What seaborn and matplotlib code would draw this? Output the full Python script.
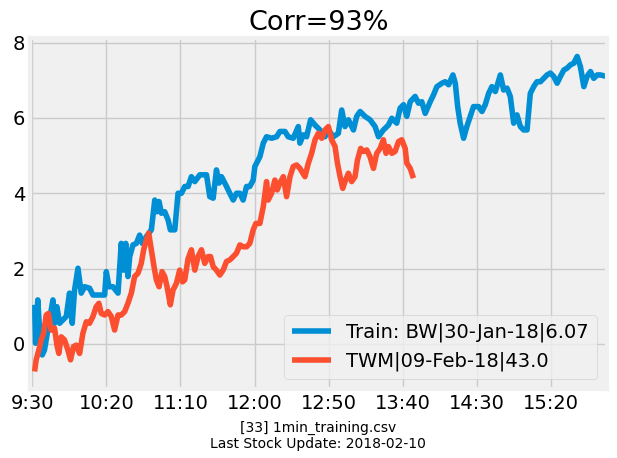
import matplotlib
matplotlib.use('Agg')  # no display

import numpy as np
import pandas as pd
import matplotlib.pyplot as plt
import seaborn as sns

# minutes since 9:30 and normalised price change
train_min = [1.6, 2.3, 3.8, 5.0, 6.8, 8.3, 10.6, 11.7, 14.0, 15.1, 16.7, 18.5, 20.7, 23.0, 25.2, 27.0,
             28.6, 30.9, 33.1, 35.4, 38.7, 41.0, 45.5, 48.9, 50.0, 51.8, 54.5, 57.9, 60.1, 61.7, 63.1,
             64.6, 65.8, 68.0, 70.3, 72.5, 74.3, 77.0, 80.4, 82.7, 84.2, 85.6, 87.2, 89.4, 91.7, 93.2,
             96.2, 98.4, 100.7, 102.9, 105.2, 107.4, 109.7, 113.1, 117.6, 119.8, 122.1, 124.3, 126.1,
             127.7, 131.1, 133.3, 135.6, 137.8, 140.1, 142.3, 144.6, 146.8, 149.1, 150.2, 153.6, 155.9,
             158.1, 161.5, 164.9, 167.1, 170.5, 172.7, 176.1, 179.5, 180.6, 182.9, 185.1, 187.8, 190.8,
             194.1, 197.5, 199.8, 203.2, 206.5, 208.8, 211.0, 213.3, 216.7, 218.9, 221.2, 224.5, 227.9,
             231.3, 233.6, 236.9, 240.3, 242.6, 245.9, 248.2, 250.5, 252.7, 255.0, 258.3, 260.6, 262.8,
             265.1, 268.5, 270.7, 273.0, 276.4, 278.6, 280.9, 283.8, 285.4, 287.0, 288.7, 291.0, 293.2,
             295.5, 297.7, 301.1, 303.4, 305.6, 307.9, 310.1, 312.4, 315.8, 318.0, 320.3, 322.5, 324.8,
             327.0, 329.3, 331.5, 333.8, 336.0, 338.3, 340.5, 342.8, 345.0, 347.3, 349.5, 351.8, 354.1,
             356.3, 358.6, 360.8, 363.1, 365.3, 367.6, 369.8, 372.1, 374.3, 376.6, 378.8, 381.1, 383.3,
             387.4]
train_val = [1.04, 0.02, 1.17, 0.37, -0.29, -0.16, 0.37, 0.64, 1.17, 0.55, 0.99, 0.55, 0.64, 0.73, 1.35,
             0.55, 1.43, 2.01, 1.35, 1.52, 1.48, 1.30, 1.30, 1.30, 1.92, 1.52, 1.52, 1.35, 2.67, 1.96,
             2.67, 1.79, 2.32, 2.63, 2.67, 2.89, 2.67, 2.85, 3.03, 3.82, 3.51, 3.78, 3.47, 3.51, 3.29,
             3.03, 3.03, 4.00, 4.00, 4.18, 4.18, 4.44, 4.31, 4.49, 4.49, 3.91, 3.87, 4.62, 4.27, 4.44,
             4.18, 4.00, 3.82, 4.00, 4.00, 3.82, 4.18, 4.18, 4.35, 4.71, 4.97, 5.33, 5.50, 5.46, 5.50,
             5.64, 5.64, 5.50, 5.46, 5.77, 5.33, 5.55, 5.50, 5.95, 5.81, 5.68, 5.50, 5.68, 5.50, 5.59,
             6.21, 5.77, 5.95, 5.68, 6.04, 6.17, 6.04, 5.95, 5.77, 5.50, 5.68, 5.81, 5.99, 5.86, 6.26,
             6.35, 6.04, 6.43, 6.57, 6.39, 6.43, 6.12, 6.43, 6.61, 6.83, 6.92, 6.96, 6.88, 7.14, 6.92,
             6.30, 5.86, 5.46, 5.77, 6.04, 6.30, 6.30, 6.17, 6.35, 6.65, 6.83, 6.70, 7.14, 6.74, 6.79,
             6.57, 5.86, 6.08, 5.77, 5.68, 5.68, 6.65, 6.83, 6.96, 6.96, 7.05, 7.14, 7.19, 7.10, 6.92,
             7.10, 7.27, 7.32, 7.41, 7.45, 7.63, 7.36, 6.83, 7.10, 7.23, 7.05, 7.14, 7.14, 7.10]

twm_min = [1.6, 2.7, 4.5, 6.1, 7.7, 9.5, 11.0, 12.8, 15.1, 16.7, 18.0, 19.6, 21.8, 24.1, 25.9, 27.9,
           29.7, 32.0, 34.2, 36.5, 38.7, 41.0, 43.2, 45.0, 46.6, 48.9, 51.1, 53.4, 55.6, 57.9, 60.1,
           62.4, 64.6, 66.9, 69.1, 71.4, 73.6, 75.2, 77.0, 78.6, 80.4, 82.2, 83.8, 85.6, 87.6, 89.4,
           91.0, 93.2, 95.0, 97.3, 99.5, 101.4, 102.9, 105.2, 107.4, 109.7, 111.9, 114.2, 116.4,
           118.7, 120.3, 122.1, 124.3, 126.6, 128.8, 131.1, 133.3, 135.6, 137.8, 140.1, 142.3, 144.6,
           146.8, 149.1, 150.9, 153.6, 155.9, 158.1, 159.2, 161.5, 163.7, 165.3, 167.1, 169.4, 171.6,
           173.9, 176.1, 178.4, 180.6, 184.0, 186.3, 188.5, 190.8, 193.0, 195.3, 197.5, 199.8, 202.0,
           204.3, 205.9, 207.7, 209.5, 211.0, 213.3, 215.5, 217.8, 219.4, 221.6, 223.4, 225.7, 227.9,
           230.2, 232.4, 234.7, 236.9, 238.7, 240.3, 242.6, 244.8, 247.1, 249.3, 251.6, 252.7, 255.0,
           257.2]
twm_val = [-0.73, -0.42, -0.16, 0.11, 0.28, 0.77, 0.81, 0.37, 0.42, -0.03, -0.25, 0.19, 0.11, -0.16,
           -0.42, -0.07, -0.03, -0.25, 0.28, 0.59, 0.55, 0.73, 0.99, 1.08, 0.81, 0.77, 0.86, 0.73, 0.37,
           0.77, 0.77, 0.86, 1.08, 1.35, 1.79, 1.88, 2.14, 2.50, 2.76, 2.94, 2.50, 2.05, 1.70, 1.52,
           1.92, 1.79, 1.52, 1.04, 1.43, 1.61, 1.96, 1.65, 1.70, 2.27, 2.50, 1.96, 2.32, 2.50, 2.14,
           2.32, 2.32, 2.05, 1.96, 1.83, 1.96, 2.19, 2.23, 2.32, 2.41, 2.63, 2.58, 2.58, 2.67, 3.03,
           3.20, 3.20, 3.65, 4.31, 3.82, 4.00, 4.35, 4.09, 4.27, 4.44, 3.91, 4.44, 4.71, 4.75, 4.66,
           4.44, 4.80, 5.06, 5.42, 5.59, 5.46, 5.68, 5.77, 5.42, 5.24, 4.80, 4.44, 4.13, 4.31, 4.53,
           4.31, 4.44, 4.88, 5.19, 5.11, 5.15, 4.97, 4.66, 5.06, 5.19, 5.42, 5.06, 5.24, 5.06, 5.11,
           5.37, 5.42, 5.19, 4.80, 4.66, 4.40]

train_label = 'Train: BW|30-Jan-18|6.07'
twm_label = 'TWM|09-Feb-18|43.0'
tick_min = [0, 50, 100, 150, 200, 250, 300, 350]
tick_lbl = ['9:30', '10:20', '11:10', '12:00', '12:50', '13:40', '14:30', '15:20']

df_train = pd.DataFrame({'minute': train_min, 'change': train_val})
df_twm = pd.DataFrame({'minute': twm_min, 'change': twm_val})

plt.style.use('fivethirtyeight')
plt.rcParams['figure.facecolor'] = 'white'

fig, ax = plt.subplots(figsize=(6.17, 4.58), dpi=100)
fig.subplots_adjust(left=0.049, right=0.983, top=0.917, bottom=0.151)

sns.lineplot(data=df_train, x='minute', y='change', color='#008fd5', linewidth=4, label=train_label, ax=ax)
sns.lineplot(data=df_twm, x='minute', y='change', color='#fc4f30', linewidth=4, label=twm_label, ax=ax)

ax.set_xlim(-1.3, 387.4)
ax.set_ylim(-1.19, 8.12)
ax.set_xticks(tick_min)
ax.set_xticklabels(tick_lbl)
ax.set_ylabel('')
ax.set_xlabel('[33] 1min_training.csv\nLast Stock Update: 2018-02-10', fontsize=10, labelpad=6)
ax.set_title('Corr=93%', fontsize=19.5)
ax.legend(loc='lower right', fontsize=14)

fig.savefig('out.png', dpi=100, facecolor='white')
